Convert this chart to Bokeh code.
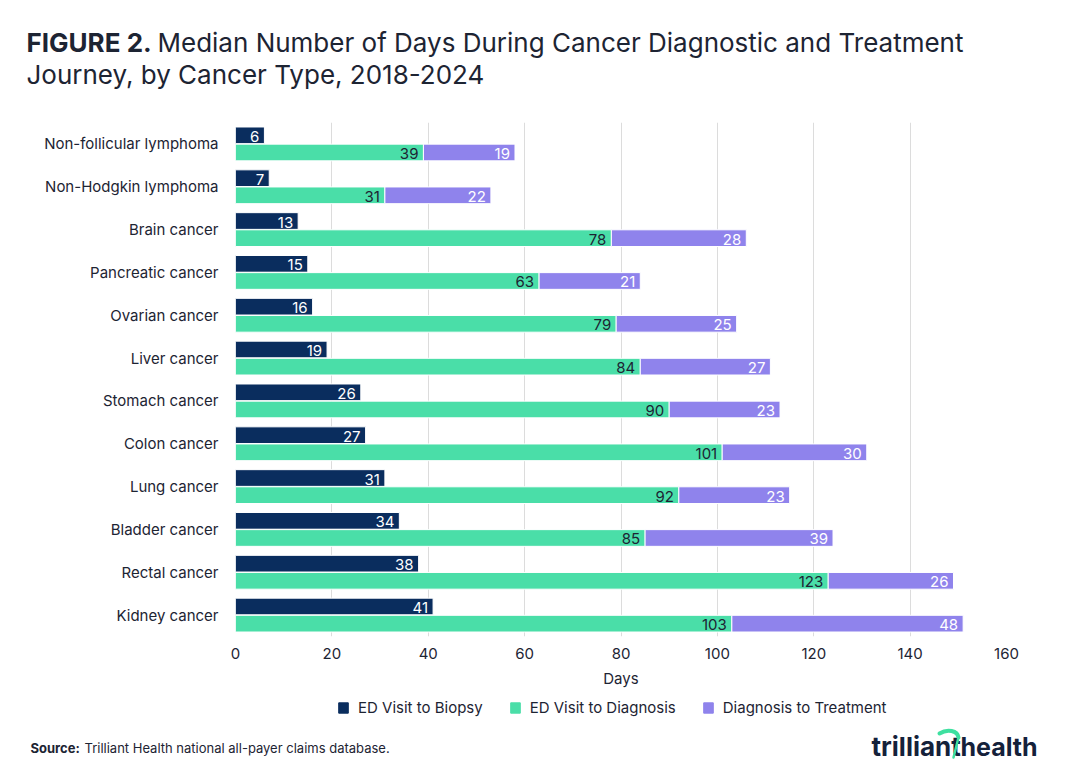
from bokeh.plotting import figure
from bokeh.layouts import column
from bokeh.models import (Range1d, ColumnDataSource, Legend, LegendItem,
                          FixedTicker)
from bokeh.core.properties import value
from bokeh.embed import file_html
from bokeh.resources import INLINE

categories = ["Non-follicular lymphoma", "Non-Hodgkin lymphoma", "Brain cancer",
              "Pancreatic cancer", "Ovarian cancer", "Liver cancer", "Stomach cancer",
              "Colon cancer", "Lung cancer", "Bladder cancer", "Rectal cancer",
              "Kidney cancer"]
ed_to_biopsy = [6, 7, 13, 15, 16, 19, 26, 27, 31, 34, 38, 41]
ed_to_diagnosis = [39, 31, 78, 63, 79, 84, 90, 101, 92, 85, 123, 103]
diagnosis_to_treatment = [19, 22, 28, 21, 25, 27, 23, 30, 23, 39, 26, 48]
x_ticks = [0, 20, 40, 60, 80, 100, 120, 140, 160]
series_names = ["ED Visit to Biopsy", "ED Visit to Diagnosis", "Diagnosis to Treatment"]

FONT = "Inter"
NAVY = "#0a2d5e"
GREEN = "#4adea8"
PURPLE = "#8f83ec"
TEXT = "#1d2433"
LOGO_NAVY = "#14213a"
LOGO_GREEN = "#3ee0a0"
W = 1080
HEADER_H, MAIN_H, FOOTER_H = 110, 580, 91


def blank_panel(h):
    """A full-bleed panel whose data units are pixels (y grows downward)."""
    f = figure(width=W, height=h, output_backend="svg", toolbar_location=None,
               x_range=Range1d(0, W), y_range=Range1d(h, 0),
               x_axis_location=None, y_axis_location=None,
               min_border=0, min_border_left=0, min_border_right=0,
               min_border_top=0, min_border_bottom=0, frame_align=False)
    f.outline_line_color = None
    f.grid.grid_line_color = None
    return f


def put_text(f, x, y, text, size, color=TEXT, style="normal"):
    f.text(x=[x], y=[y], text=[text], text_font=value(FONT), text_font_size=size,
           text_font_style=style, text_color=color, text_baseline="middle",
           text_align="left")


# ---- header: title ----
header = blank_panel(HEADER_H)
put_text(header, 26, 42, "FIGURE 2.", "26px", style="bold")
put_text(header, 157, 42, "Median Number of Days During Cancer Diagnostic and Treatment", "26px")
put_text(header, 26, 74, "Journey, by Cancer Type, 2018-2024", "26px")

# ---- main chart ----
rows = [i + 0.5 for i in range(len(categories))]
y_biopsy = [r - 0.2 for r in rows]
y_diag = [r + 0.2 for r in rows]
bar_h = 0.39

p = figure(width=W, height=MAIN_H, output_backend="svg", toolbar_location=None,
           x_range=Range1d(0, 160), y_range=Range1d(len(categories), 0),
           min_border_left=235, min_border_right=74,
           min_border_top=12, min_border_bottom=52, frame_align=False)
p.outline_line_color = None

src = ColumnDataSource(dict(
    yb=y_biopsy, yd=y_diag, b=ed_to_biopsy, d=ed_to_diagnosis,
    t_left=ed_to_diagnosis,
    t_right=[d + t for d, t in zip(ed_to_diagnosis, diagnosis_to_treatment)],
    bl=[str(v) for v in ed_to_biopsy],
    dl=[str(v) for v in ed_to_diagnosis],
    tl=[str(v) for v in diagnosis_to_treatment],
))

p.hbar(y="yb", left=0, right="b", height=bar_h, source=src,
       fill_color=NAVY, line_color="white", line_width=1)
p.hbar(y="yd", left=0, right="d", height=bar_h, source=src,
       fill_color=GREEN, line_color="white", line_width=1)
p.hbar(y="yd", left="t_left", right="t_right", height=bar_h, source=src,
       fill_color=PURPLE, line_color="white", line_width=1)

lbl = dict(text_font=value(FONT), text_font_size="15px", text_align="right",
           text_baseline="middle", x_offset=-5, y_offset=1)
p.text(x="b", y="yb", text="bl", source=src, text_color="white", **lbl)
p.text(x="d", y="yd", text="dl", source=src, text_color=TEXT, **lbl)
p.text(x="t_right", y="yd", text="tl", source=src, text_color="white", **lbl)

p.xaxis.ticker = FixedTicker(ticks=x_ticks)
p.xaxis.axis_line_color = None
p.xaxis.major_tick_line_color = None
p.xaxis.minor_tick_line_color = None
p.xaxis.major_label_standoff = 5
p.xaxis.major_label_text_font = FONT
p.xaxis.major_label_text_font_size = "15px"
p.xaxis.major_label_text_color = TEXT
p.xaxis.axis_label = "Days"
p.xaxis.axis_label_text_font = FONT
p.xaxis.axis_label_text_font_style = "normal"
p.xaxis.axis_label_text_font_size = "15px"
p.xaxis.axis_label_text_color = TEXT
p.xaxis.axis_label_standoff = 7

p.yaxis.ticker = FixedTicker(ticks=rows)
p.yaxis.major_label_overrides = {r: c for r, c in zip(rows, categories)}
p.yaxis.axis_line_color = None
p.yaxis.major_tick_line_color = None
p.yaxis.minor_tick_line_color = None
p.yaxis.major_label_standoff = 11
p.yaxis.major_label_text_font = FONT
p.yaxis.major_label_text_font_size = "15px"
p.yaxis.major_label_text_color = TEXT

p.xgrid.grid_line_color = "#dcdcdc"
p.xgrid.grid_line_width = 1
p.ygrid.grid_line_color = None

# ---- footer: legend, source note, wordmark ----
footer = blank_panel(FOOTER_H)
# legend swatch renderers sit outside the visible range; only their legend glyphs show
swatches = []
for color in (NAVY, GREEN, PURPLE):
    swatches.append(footer.quad(left=[-60], right=[-50], top=[-60], bottom=[-50],
                                fill_color=color, line_color=color))
legend = Legend(items=[LegendItem(label=n, renderers=[r])
                       for n, r in zip(series_names, swatches)],
                orientation="horizontal", location=(337, FOOTER_H - 27),
                border_line_color=None, background_fill_alpha=0,
                label_text_font=FONT, label_text_font_size="15px",
                label_text_color=TEXT, glyph_width=12, glyph_height=13,
                spacing=26, padding=3, margin=0, label_standoff=9)
footer.add_layout(legend, "center")

put_text(footer, 30, 57, "Source:", "13px", style="bold")
put_text(footer, 84, 57, "Trilliant Health national all-payer claims database.", "13px")

# wordmark with its green swoosh
put_text(footer, 871, 56, "trilliant", "26px", color=LOGO_NAVY, style="bold")
put_text(footer, 960, 56, "health", "25px", color=LOGO_NAVY, style="bold")
footer.bezier(x0=[939], y0=[43], x1=[958], y1=[47],
              cx0=[947], cy0=[38], cx1=[957], cy1=[40],
              line_color=LOGO_GREEN, line_width=4, line_cap="round")
footer.segment(x0=[958], y0=[47], x1=[953], y1=[67],
               line_color=LOGO_GREEN, line_width=2.5, line_cap="round")

page = column(header, p, footer, spacing=0)
open("out.html", "w").write(file_html(page, INLINE))
